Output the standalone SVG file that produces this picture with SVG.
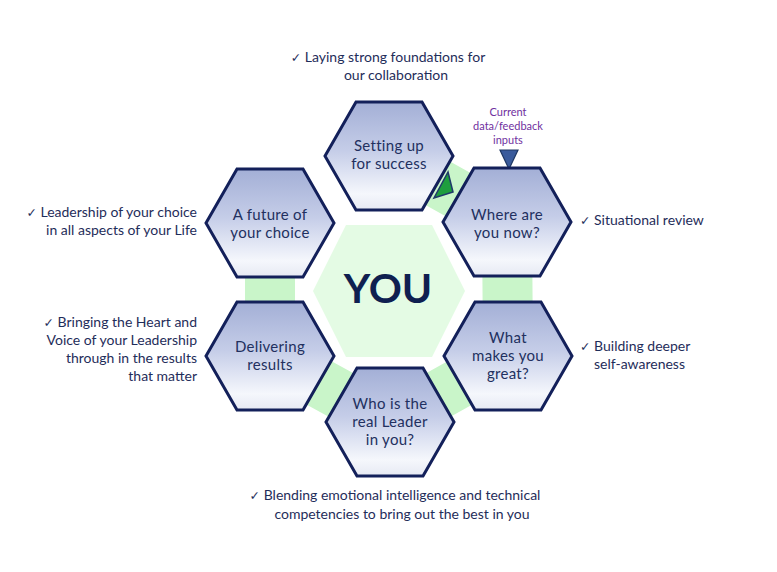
<svg xmlns="http://www.w3.org/2000/svg" width="777" height="572" viewBox="0 0 777 572">
<defs>
<linearGradient id="hexg" x1="0" y1="0" x2="0" y2="1">
<stop offset="0" stop-color="#a3afd6"/>
<stop offset="0.45" stop-color="#c5cde8"/>
<stop offset="0.85" stop-color="#f5f7fc"/>
<stop offset="1" stop-color="#e6e9f3"/>
</linearGradient>
<polygon id="hx" points="-64,0 -33,-54 33,-54 64,0 33,54 -33,54"/>
</defs>
<style>
.hex{fill:url(#hexg);stroke:#13205a;stroke-width:3;stroke-linejoin:miter}
.lbl{font-family:Lato,"Open Sans",sans-serif;font-size:15px;letter-spacing:0.3px;fill:#22305f;text-anchor:middle}
.note{font-family:Lato,"Open Sans","DejaVu Sans",sans-serif;font-size:14px;fill:#1f2d5a}
.ck{font-family:"DejaVu Sans",sans-serif;font-size:12.5px}
.inp{font-family:Lato,"Open Sans",sans-serif;font-size:11px;fill:#7030a0;text-anchor:middle}
</style>
<rect width="777" height="572" fill="#ffffff"/>
<g id="connectors">
<polyline points="389,156 507,222 508,356 390,422 270,356 270,223" fill="none" stroke="#c9f5c9" stroke-width="50" stroke-linejoin="miter"/>
<polygon points="448,172 453,192 434,198" fill="#1e9e3e" stroke="#1f3a6a" stroke-width="1.5"/>
<polygon points="500,150 518,150 509,169" fill="#3a5b9c" stroke="#1f3864" stroke-width="1.2"/>
</g>
<g id="you">
<polygon points="313,291 346,225 432,225 465,291 432,357 346,357" fill="#e4fbe4"/>
<text x="388" y="303" font-family="Lato,'Open Sans',sans-serif" font-size="41" font-weight="bold" fill="#0f1f50" text-anchor="middle">YOU</text>
</g>
<g id="setting-up">
<use href="#hx" class="hex" x="389" y="156"/>
<text class="lbl" x="389" y="151">Setting up</text>
<text class="lbl" x="389" y="169">for success</text>
</g>
<g id="where-are-you">
<use href="#hx" class="hex" x="507" y="222"/>
<text class="lbl" x="507" y="220">Where are</text>
<text class="lbl" x="507" y="238">you now?</text>
</g>
<g id="what-makes-you-great">
<use href="#hx" class="hex" x="508" y="356"/>
<text class="lbl" x="508" y="343">What</text>
<text class="lbl" x="508" y="361">makes you</text>
<text class="lbl" x="508" y="379">great?</text>
</g>
<g id="real-leader">
<use href="#hx" class="hex" x="390" y="422"/>
<text class="lbl" x="390" y="409">Who is the</text>
<text class="lbl" x="390" y="427">real Leader</text>
<text class="lbl" x="390" y="445">in you?</text>
</g>
<g id="delivering-results">
<use href="#hx" class="hex" x="270" y="356"/>
<text class="lbl" x="270" y="352">Delivering</text>
<text class="lbl" x="270" y="370">results</text>
</g>
<g id="future-choice">
<use href="#hx" class="hex" x="270" y="223"/>
<text class="lbl" x="270" y="220">A future of</text>
<text class="lbl" x="270" y="238">your choice</text>
</g>
<g id="notes">
<text class="note" x="388" y="62" text-anchor="middle"><tspan class="ck">✓</tspan> Laying strong foundations for</text>
<text class="note" x="396" y="80" text-anchor="middle">our collaboration</text>
<text class="inp" x="508" y="116">Current</text>
<text class="inp" x="508" y="130">data/feedback</text>
<text class="inp" x="508" y="144">inputs</text>
<text class="note" x="580" y="225"><tspan class="ck">✓</tspan> Situational review</text>
<text class="note" x="580" y="351"><tspan class="ck">✓</tspan> Building deeper</text>
<text class="note" x="594" y="369">self-awareness</text>
<text class="note" x="197" y="217" text-anchor="end"><tspan class="ck">✓</tspan> Leadership of your choice</text>
<text class="note" x="197" y="235" text-anchor="end">in all aspects of your Life</text>
<text class="note" x="197" y="327" text-anchor="end"><tspan class="ck">✓</tspan> Bringing the Heart and</text>
<text class="note" x="197" y="345" text-anchor="end">Voice of your Leadership</text>
<text class="note" x="197" y="363" text-anchor="end">through in the results</text>
<text class="note" x="197" y="381" text-anchor="end">that matter</text>
<text class="note" x="395" y="500" text-anchor="middle"><tspan class="ck">✓</tspan> Blending emotional intelligence and technical</text>
<text class="note" x="402" y="519" text-anchor="middle">competencies to bring out the best in you</text>
</g>
</svg>
